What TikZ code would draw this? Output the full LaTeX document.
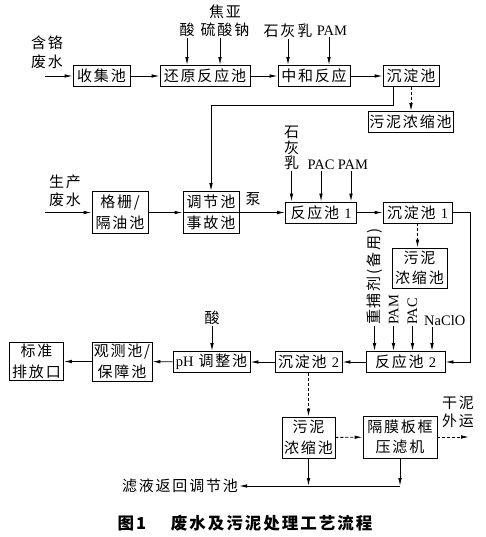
\documentclass[tikz,border=0pt]{standalone}
\usepackage{fontspec}
\setmainfont{Liberation Serif}
\newfontfamily\cjk[LetterSpace=12]{Noto Sans CJK SC}
\usetikzlibrary{arrows.meta}
\newcommand{\lat}[1]{{\rmfamily\fontsize{14.5}{18}\selectfont #1}}

\tikzset{
  box/.style={draw, line width=0.9pt, inner sep=1pt, align=center,
    font=\cjk\fontsize{15}{20.5}\selectfont},
  lbl/.style={inner sep=1pt, align=center,
    font=\cjk\fontsize{15}{18.5}\selectfont},
  flow/.style={line width=0.9pt, -{Latex[length=8pt,width=3.6pt]}},
  mud/.style={flow, dash pattern=on 3pt off 2pt},
}

\begin{document}
\begin{tikzpicture}[x=1pt, y=-1pt]

    \useasboundingbox (0,0) rectangle (486,537);

    % 1. Dòng thứ nhất: nước thải chứa crom
    \node[lbl] (hg) at (47,52) {含铬\\废水};
    \coordinate (in1) at (45,76);
    \node[box, minimum width=57, minimum height=21] (sj) at (101.5,76) {收集池};
    \node[box, minimum width=90, minimum height=21] (hy) at (205,76) {还原反应池};
    \node[box, minimum width=72, minimum height=21] (zh) at (314,76) {中和反应};
    \node[box, minimum width=56, minimum height=21] (cd) at (411,76) {沉淀池};
    \node[box, minimum width=85, minimum height=21] (wn) at (410.5,122) {污泥浓缩池};

    \draw[flow] (in1) -- (sj);
    \draw[flow] (sj) -- (hy);
    \draw[flow] (hy) -- (zh);
    \draw[flow] (zh) -- (cd);
    \draw[mud] (cd.south) -- (cd.south |- wn.north);

    % hóa chất cho dòng thứ nhất
    \node[lbl] (suan1) at (187,30) {酸};
    \node[lbl] (jy) at (225,21) {焦亚\\硫酸钠};
    \node[lbl] (shl1) at (288,31) {石灰乳};
    \node[lbl] (pam1) at (332,31) {\lat{PAM}};
    \draw[flow] (suan1.south) -- (suan1.south |- hy.north);
    \draw[flow] ([xshift=-5pt]jy.south) -- ([xshift=-5pt]jy.south |- hy.north);
    \draw[flow] (shl1.south) -- (shl1.south |- zh.north);
    \draw[flow] ([xshift=-3pt]pam1.south) -- ([xshift=-3pt]pam1.south |- zh.north);

    % 2. Dòng thứ hai: nước thải sản xuất
    \node[lbl] (sc) at (65,191) {生产\\废水};
    \coordinate (in2) at (45,212.5);
    \node[box, minimum width=56, minimum height=42] (gs) at (120,212.5) {格栅/\\隔油池};
    \node[box, minimum width=56, minimum height=21] (tj) at (211,202) {调节池};
    \node[box, minimum width=56, minimum height=21] (sg) at (211,223) {事故池};
    \node[box, minimum width=71, minimum height=21] (fy1) at (321,212.5) {反应池 \lat{1}};
    \node[box, minimum width=69, minimum height=21] (cd1) at (417.5,212.5) {沉淀池 \lat{1}};
    \node[box, minimum width=55, minimum height=40] (wn1) at (419.5,268) {污泥\\浓缩池};
    \node[lbl] (beng) at (253,199) {泵};

    \draw[flow] (cd.south) ++(-18,0) -- ++(0,19) -| (tj.north);
    \draw[flow] (in2) -- (gs);
    \draw[flow] (gs.east) -- (gs.east -| tj.west);
    \draw[flow] (gs.east -| tj.east) -- (fy1.west);
    \draw[flow] (fy1) -- (cd1);
    \draw[mud] (cd1.south) -- (cd1.south |- wn1.north);

    % hóa chất cho bể phản ứng 1
    \node[lbl, font=\cjk\fontsize{15}{15.5}\selectfont] (shl2) at (291.5,148) {石\\灰\\乳};
    \node[lbl] (pac2) at (321,165) {\lat{PAC}};
    \node[lbl] (pam2) at (353,165) {\lat{PAM}};
    \draw[flow] (shl2.south) -- (shl2.south |- fy1.north);
    \draw[flow] (pac2.south) -- (pac2.south |- fy1.north);
    \draw[flow] ([xshift=-2pt]pam2.south) -- ([xshift=-2pt]pam2.south |- fy1.north);

    % 3. Dòng thứ ba: phản ứng 2 và xả thải
    \node[box, minimum width=79, minimum height=21] (fy2) at (405.5,362) {反应池 \lat{2}};
    \node[box, minimum width=67, minimum height=21] (cd2) at (308.5,362) {沉淀池 \lat{2}};
    \node[box, minimum width=77, minimum height=21] (ph) at (211.5,362) {\lat{pH} 调整池};
    \node[box, minimum width=60, minimum height=39] (gc) at (122,361.5) {观测池/\\保障池};
    \node[box, minimum width=54, minimum height=38] (bz) at (36.5,361.5) {标准\\排放口};

    \draw[flow] (cd1.east) -- ++(18,0) |- (fy2.east);
    \draw[flow] (fy2) -- (cd2);
    \draw[flow] (cd2) -- (ph);
    \draw[flow] (ph) -- (gc);
    \draw[flow] (gc) -- (bz);

    % hóa chất cho bể phản ứng 2
    \node[lbl, rotate=90, anchor=west] (zb) at (374.5,326) {重捕剂(备用)};
    \node[lbl, rotate=90, anchor=west] (pam3) at (393.5,326) {\lat{PAM}};
    \node[lbl, rotate=90, anchor=west] (pac3) at (412.5,326) {\lat{PAC}};
    \node[lbl, anchor=south west] (nacl) at (423,327) {\lat{NaClO}};
    \node[lbl] (suan2) at (212,318) {酸};
    \draw[flow] (zb.west) -- (zb.west |- fy2.north);
    \draw[flow] (pam3.west) -- (pam3.west |- fy2.north);
    \draw[flow] (pac3.west) -- (pac3.west |- fy2.north);
    \draw[flow] ([xshift=9pt]nacl.south west) -- ([xshift=9pt]nacl.south west |- fy2.north);
    \draw[flow] (suan2.south) -- (suan2.south |- ph.north);

    % 4. Xử lý bùn
    \node[box, minimum width=53, minimum height=41] (wn2) at (308.5,437.5) {污泥\\浓缩池};
    \node[box, minimum width=74, minimum height=42] (yl) at (400,437) {隔膜板框\\压滤机};
    \node[lbl] (gn) at (458,412) {干泥\\外运};
    \node[lbl] (lb) at (180,486) {滤液返回调节池};
    \coordinate (out) at (469,437);

    \draw[mud] (cd2.south) -- (cd2.south |- wn2.north);
    \draw[mud] (wn2) -- (yl);
    \draw[mud] (yl.east) -- (out);
    \draw[flow] (wn2.south) -- (wn2.south |- lb);
    \draw[flow] (yl.south) -- (yl.south |- lb);
    \draw[flow] (yl.south |- lb) -- (lb.east);

    % 5. Tên hình
    \node[font=\cjk\bfseries\fontsize{16.5}{18}\selectfont] (cap) at (245,523) {图1\hspace{1.5em}废水及污泥处理工艺流程};

\end{tikzpicture}
\end{document}
